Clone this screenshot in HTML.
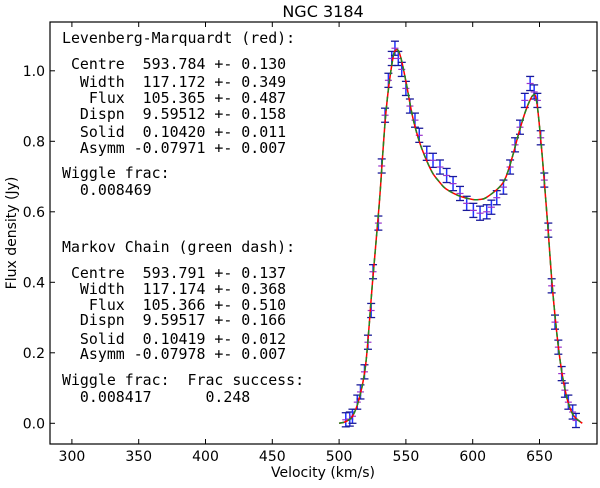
<!DOCTYPE html>
<html><head><meta charset="utf-8"><style>
html,body{margin:0;padding:0;background:#fff;}
svg text{font-family:"DejaVu Sans","Liberation Sans",sans-serif;}
.mono{font-family:"DejaVu Sans Mono","Liberation Mono",monospace;font-size:14.9px;white-space:pre;}
</style></head><body>
<svg id="chart" width="600" height="483" viewBox="0 0 600 483" xmlns="http://www.w3.org/2000/svg">
<text x="323" y="17" font-size="16" text-anchor="middle">NGC 3184</text>
<text x="323" y="477" font-size="14" text-anchor="middle">Velocity (km/s)</text>
<text transform="translate(16,233) rotate(-90)" font-size="14" text-anchor="middle">Flux density (Jy)</text>
<g id="axes"></g>
<g id="marks"></g>
<g class="mono">
<text class="mono" x="62" y="43" xml:space="preserve">Levenberg-Marquardt (red):</text>
<text class="mono" x="62" y="69" xml:space="preserve"> Centre  593.784 +- 0.130</text>
<text class="mono" x="62" y="87" xml:space="preserve">  Width  117.172 +- 0.349</text>
<text class="mono" x="62" y="103" xml:space="preserve">   Flux  105.365 +- 0.487</text>
<text class="mono" x="62" y="119" xml:space="preserve">  Dispn  9.59512 +- 0.158</text>
<text class="mono" x="62" y="137" xml:space="preserve">  Solid  0.10420 +- 0.011</text>
<text class="mono" x="62" y="153" xml:space="preserve">  Asymm -0.07971 +- 0.007</text>
<text class="mono" x="62" y="178" xml:space="preserve">Wiggle frac:</text>
<text class="mono" x="62" y="195" xml:space="preserve">  0.008469</text>
<text class="mono" x="62" y="252" xml:space="preserve">Markov Chain (green dash):</text>
<text class="mono" x="62" y="278" xml:space="preserve"> Centre  593.791 +- 0.137</text>
<text class="mono" x="62" y="294" xml:space="preserve">  Width  117.174 +- 0.368</text>
<text class="mono" x="62" y="310" xml:space="preserve">   Flux  105.366 +- 0.510</text>
<text class="mono" x="62" y="325" xml:space="preserve">  Dispn  9.59517 +- 0.166</text>
<text class="mono" x="62" y="344" xml:space="preserve">  Solid  0.10419 +- 0.012</text>
<text class="mono" x="62" y="359" xml:space="preserve">  Asymm -0.07978 +- 0.007</text>
<text class="mono" x="62" y="385" xml:space="preserve">Wiggle frac:  Frac success:</text>
<text class="mono" x="62" y="402" xml:space="preserve">  0.008417      0.248</text>
</g>
</svg>
<script>
const xTicks=[300,350,400,450,500,550,600,650];
const yTicks=[0.0,0.2,0.4,0.6,0.8,1.0];
const dataVel=[505,508,510,513.6,516,519,521.6,524,525.4,529.4,531.9,534.4,536.9,539.4,541.8,544.3,546.9,550,553,556.8,560,565.6,570.3,575.5,580.5,585.3,590.5,595.5,600.5,605.5,610.5,614,618,623,628,631.7,635.4,639,643,646,648.4,650.9,653.6,656.6,659.1,661.6,664.1,666.6,669,671.6,674.8,677.3];
const dataFlux=[0.01,0.012,0.02,0.06,0.089,0.146,0.23,0.32,0.43,0.568,0.73,0.874,0.973,1.035,1.064,1.035,1.004,0.95,0.9,0.86,0.817,0.766,0.746,0.727,0.703,0.68,0.652,0.624,0.604,0.596,0.6,0.613,0.64,0.67,0.727,0.79,0.84,0.916,0.964,0.94,0.916,0.81,0.69,0.548,0.39,0.287,0.216,0.141,0.094,0.06,0.032,0.008];
const errFlux=0.02;
const modelVel=[500,505,510,515,520,525,530,535,540,543,546,550,555,560,565,570,575,580,590,600,605,610,620,625,630,635,640,645,648,652,656,660,665,670,675,682];
const modelFlux=[0,0.005,0.02,0.07,0.17,0.40,0.62,0.88,1.03,1.06,1.04,0.97,0.87,0.80,0.75,0.71,0.685,0.665,0.645,0.635,0.635,0.64,0.67,0.70,0.76,0.83,0.89,0.93,0.91,0.76,0.57,0.37,0.19,0.08,0.025,0.0];
const L=50,R=597,T=22,B=444;
const xs=v=>472.7+(v-600)*1.336;
const ys=f=>423.3-f*352.5;
const NS='http://www.w3.org/2000/svg';
function mk(tag,attrs,parent){const e=document.createElementNS(NS,tag);for(const k in attrs)e.setAttribute(k,attrs[k]);parent.appendChild(e);return e;}
const axes=document.getElementById('axes'),marks=document.getElementById('marks');
const frame=mk('rect',{x:L,y:T,width:R-L,height:B-T,fill:'none',stroke:'#000','stroke-width':1.2},axes);


xTicks.forEach(v=>{const x=xs(v);
 mk('line',{x1:x,x2:x,y1:B,y2:B-5,stroke:'#000'},axes);
 mk('line',{x1:x,x2:x,y1:T,y2:T+5,stroke:'#000'},axes);
 const t=mk('text',{x:x,y:B+17,'font-size':14,'text-anchor':'middle'},axes);t.textContent=v;
 
 });
yTicks.forEach(v=>{const y=ys(v);
 mk('line',{x1:L,x2:L+5,y1:y,y2:y,stroke:'#000'},axes);
 mk('line',{x1:R,x2:R-5,y1:y,y2:y,stroke:'#000'},axes);
 const t=mk('text',{x:L-5,y:y+5,'font-size':14,'text-anchor':'end'},axes);t.textContent=v.toFixed(1);
 
 });
dataVel.forEach((v,i)=>{const x=xs(v),y1=ys(dataFlux[i]+errFlux),y2=ys(dataFlux[i]-errFlux);
 const g=mk('g',{},marks);
 
 
 mk('line',{x1:x,x2:x,y1:y1,y2:y2,stroke:'#2233ff','stroke-width':1.5},g);
 mk('line',{x1:x-4,x2:x+4,y1:y1,y2:y1,stroke:'#1a1a99','stroke-width':1.3},g);
 mk('line',{x1:x-4,x2:x+4,y1:y2,y2:y2,stroke:'#1a1a99','stroke-width':1.3},g);
 mk('line',{x1:x-3.5,x2:x+3.5,y1:ys(dataFlux[i]),y2:ys(dataFlux[i]),stroke:'#9933cc','stroke-width':1.2},g);});
function pathFrom(vs,fs){const p=vs.map((v,i)=>[xs(v),ys(fs[i])]);let d='M'+p[0][0]+','+p[0][1];
 for(let i=0;i<p.length-1;i++){const p0=p[Math.max(0,i-1)],p1=p[i],p2=p[i+1],p3=p[Math.min(p.length-1,i+2)];
 d+=' C'+(p1[0]+(p2[0]-p0[0])/6)+','+(p1[1]+(p2[1]-p0[1])/6)+' '+(p2[0]-(p3[0]-p1[0])/6)+','+(p2[1]-(p3[1]-p1[1])/6)+' '+p2[0]+','+p2[1];}
 return d;}
const d=pathFrom(modelVel,modelFlux);
const red=mk('path',{d:d,fill:'none',stroke:'#ff0000','stroke-width':1.5},marks);


const grn=mk('path',{d:d,fill:'none',stroke:'#228822','stroke-width':1.5,'stroke-dasharray':'5,4'},marks);


</script>
</body></html>
